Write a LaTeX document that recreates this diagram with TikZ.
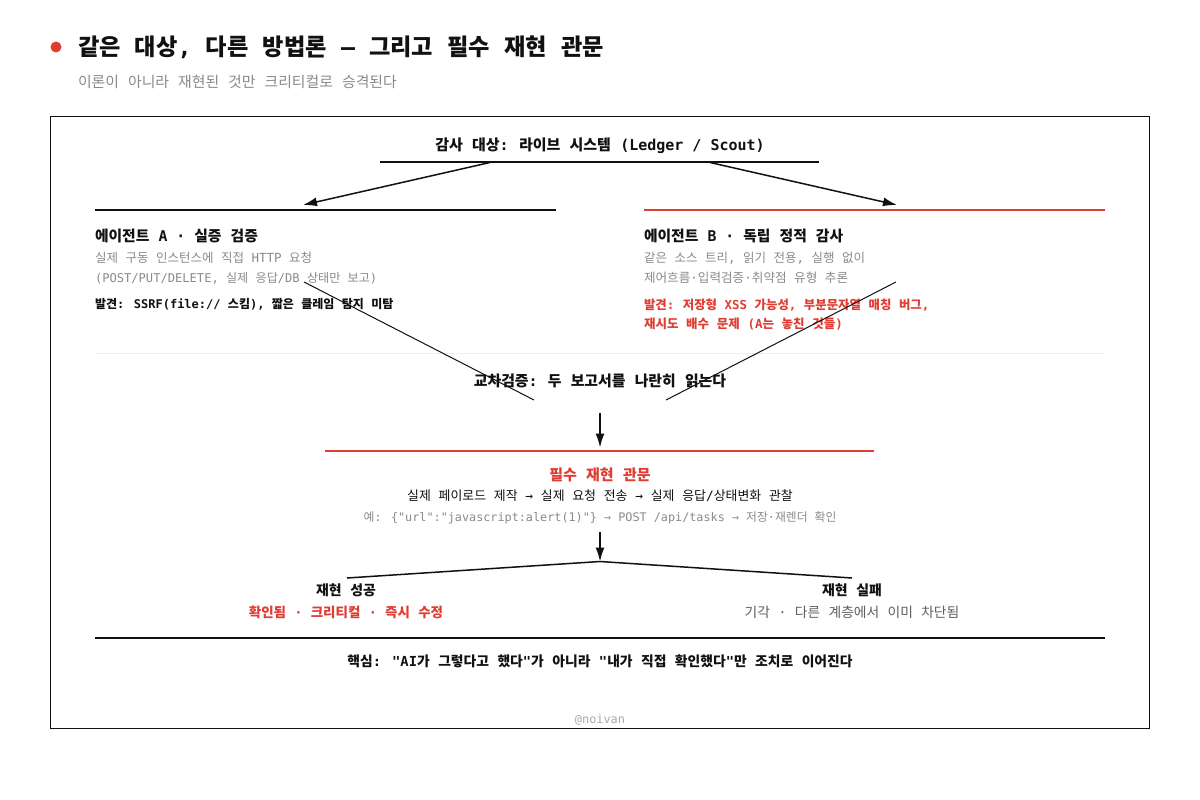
\documentclass[tikz,border=0pt]{standalone}
\usepackage{fontspec}
\setmainfont{Noto Sans CJK KR}[WordSpace=2.68]
\newfontfamily\monof{DejaVu Sans Mono}
\newcommand\m[1]{{\monof #1}}
\usetikzlibrary{arrows.meta}
\definecolor{accent}{HTML}{E03C31}
\definecolor{ink}{HTML}{111111}
\definecolor{muted}{HTML}{8A8A8A}
\definecolor{dim}{HTML}{5F5F5F}
\definecolor{rule}{HTML}{EEEEEE}
\definecolor{faint}{HTML}{AAAAAA}
\newcommand\fs[1]{\fontsize{#1}{#1}\selectfont}
\tikzset{
  txt/.style={inner sep=0pt, outer sep=0pt, text=ink},
  lt/.style={txt, anchor=base west},
  ct/.style={txt, anchor=base},
  bar/.style={line width=2pt},
  thin/.style={line width=1pt, ink},
  arr/.style={line width=1.5pt, ink, -{Latex[length=14pt,width=9pt]}},
}
\begin{document}
\begin{tikzpicture}[x=1pt,y=-1pt]
\useasboundingbox (0,0) rectangle (1200,800);
\fill[white] (0,0) rectangle (1200,800);
% title
\fill[accent] (56,47) circle (5.5);
\node[lt, font=\fs{23.2}\bfseries] (title) at (78,55.8) {같은 대상\m{,} 다른 방법론 \m{–} 그리고 필수 재현 관문};
\node[lt, text=muted, font=\fs{14.9}] (subtitle) at (78,87.6) {이론이 아니라 재현된 것만 크리티컬로 승격된다};
% frame
\draw[line width=1pt, ink] (50.5,116.5) rectangle (1149.5,728.5);
% target
\node[ct, font=\fs{15}\bfseries] (target) at (600,150.7) {감사 대상\m{:} 라이브 시스템 \m{(Ledger / Scout)}};
\coordinate (tl) at (380,162); \coordinate (tr) at (819,162);
\draw[line width=1.5pt, ink] (tl) -- (tr);
\coordinate (ta) at (490,162.5); \coordinate (tb) at (710,162.5);
% agent bars
\coordinate (al) at (95,210); \coordinate (ar) at (556,210);
\coordinate (bl) at (644,210); \coordinate (br) at (1105,210);
\draw[bar, ink] (al) -- (ar);
\draw[bar, accent] (bl) -- (br);
\coordinate (aa) at (303,205); \coordinate (ba) at (897,205);
\draw[arr] (ta) -- (aa);
\draw[arr] (tb) -- (ba);
% agent A
\node[lt, font=\fs{14.8}\bfseries] (aT) at (95,241.6) {에이전트 \m{A ·} 실증 검증};
\node[lt, text=muted, font=\fs{12.5}] (a1) at (95,262.8) {실제 구동 인스턴스에 직접 \m{HTTP} 요청};
\node[lt, text=muted, font=\fs{12.1}] (a2) at (95,282.6) {\m{(POST/PUT/DELETE,} 실제 응답\m{/DB} 상태만 보고\m{)}};
\node[lt, font=\fs{12}\bfseries] (a3) at (95,308.5) {발견\m{: SSRF(file://} 스킴\m{),} 짧은 클레임 탐지 미탐};
% agent B
\node[lt, font=\fs{14.8}\bfseries] (bT) at (644,241.6) {에이전트 \m{B ·} 독립 정적 감사};
\node[lt, text=muted, font=\fs{12.5}] (b1) at (644,262.8) {같은 소스 트리\m{,} 읽기 전용\m{,} 실행 없이};
\node[lt, text=muted, font=\fs{12.6}] (b2) at (644,282.8) {제어흐름\m{·}입력검증\m{·}취약점 유형 추론};
\node[lt, text=accent, font=\fs{12.4}\bfseries] (b3) at (644,309.7) {발견\m{:} 저장형 \m{XSS} 가능성\m{,} 부분문자열 매칭 버그\m{,}};
\node[lt, text=accent, font=\fs{12.5}\bfseries] (b4) at (644,328.7) {재시도 배수 문제 \m{(A}는 놓친 것들\m{)}};
% separator
\coordinate (sl) at (95,353); \coordinate (sr) at (1105,353);
\draw[line width=1pt, rule] (sl) -- (sr);
% cross lines
\coordinate (xa) at (304,282); \coordinate (xae) at (534,400);
\coordinate (xb) at (896,282); \coordinate (xbe) at (666,400);
\draw[thin] (xa) -- (xae);
\draw[thin] (xb) -- (xbe);
\node[ct, font=\fs{14.9}\bfseries] (cross) at (600,386.6) {교차검증\m{:} 두 보고서를 나란히 읽는다};
% gate
\coordinate (g0) at (600,413); \coordinate (g1) at (600,447.5);
\draw[arr] (g0) -- (g1);
\coordinate (gl) at (325,451); \coordinate (gr) at (874,451);
\draw[bar, accent] (gl) -- (gr);
\node[ct, text=accent, font=\fs{15}\bfseries] (gate) at (600,480.6) {필수 재현 관문};
\node[ct, font=\fs{12.9}] (steps) at (600,500.9) {실제 페이로드 제작 \m{→} 실제 요청 전송 \m{→} 실제 응답\m{/}상태변화 관찰};
\node[ct, text=muted, font=\fs{11.8}] (ex) at (600,521.5) {예\m{: \{"url":"javascript:alert(1)"\} → POST /api/tasks →} 저장\m{·}재렌더 확인};
% split
\coordinate (s0) at (600,532); \coordinate (s1) at (600,561.5);
\draw[arr] (s0) -- (s1);
\coordinate (sp) at (600,561.5); \coordinate (spl) at (347,578); \coordinate (spr) at (852,578);
\draw[line width=1.5pt, ink] (spl) -- (sp) -- (spr);
\node[ct, font=\fs{13.9}\bfseries] (ok) at (346,595.3) {재현 성공};
\node[ct, text=accent, font=\fs{13.5}\bfseries] (okd) at (346,617.1) {확인됨 \m{·} 크리티컬 \m{·} 즉시 수정};
\node[ct, font=\fs{13.9}\bfseries] (ng) at (852,595.3) {재현 실패};
\node[ct, text=dim, font=\fs{13.8}] (ngd) at (852,617.1) {기각 \m{·} 다른 계층에서 이미 차단됨};
% bottom
\coordinate (ml) at (95,638); \coordinate (mr) at (1105,638);
\draw[bar, ink] (ml) -- (mr);
\node[ct, font=\fs{13.8}\bfseries] (key) at (600,666.2) {핵심\m{: "AI}가 그렇다고 했다\m{"}가 아니라 \m{"}내가 직접 확인했다\m{"}만 조치로 이어진다};
\node[ct, text=faint, font=\fs{11.9}] (sig) at (600,723.2) {\m{@noivan}};
\end{tikzpicture}
\end{document}
